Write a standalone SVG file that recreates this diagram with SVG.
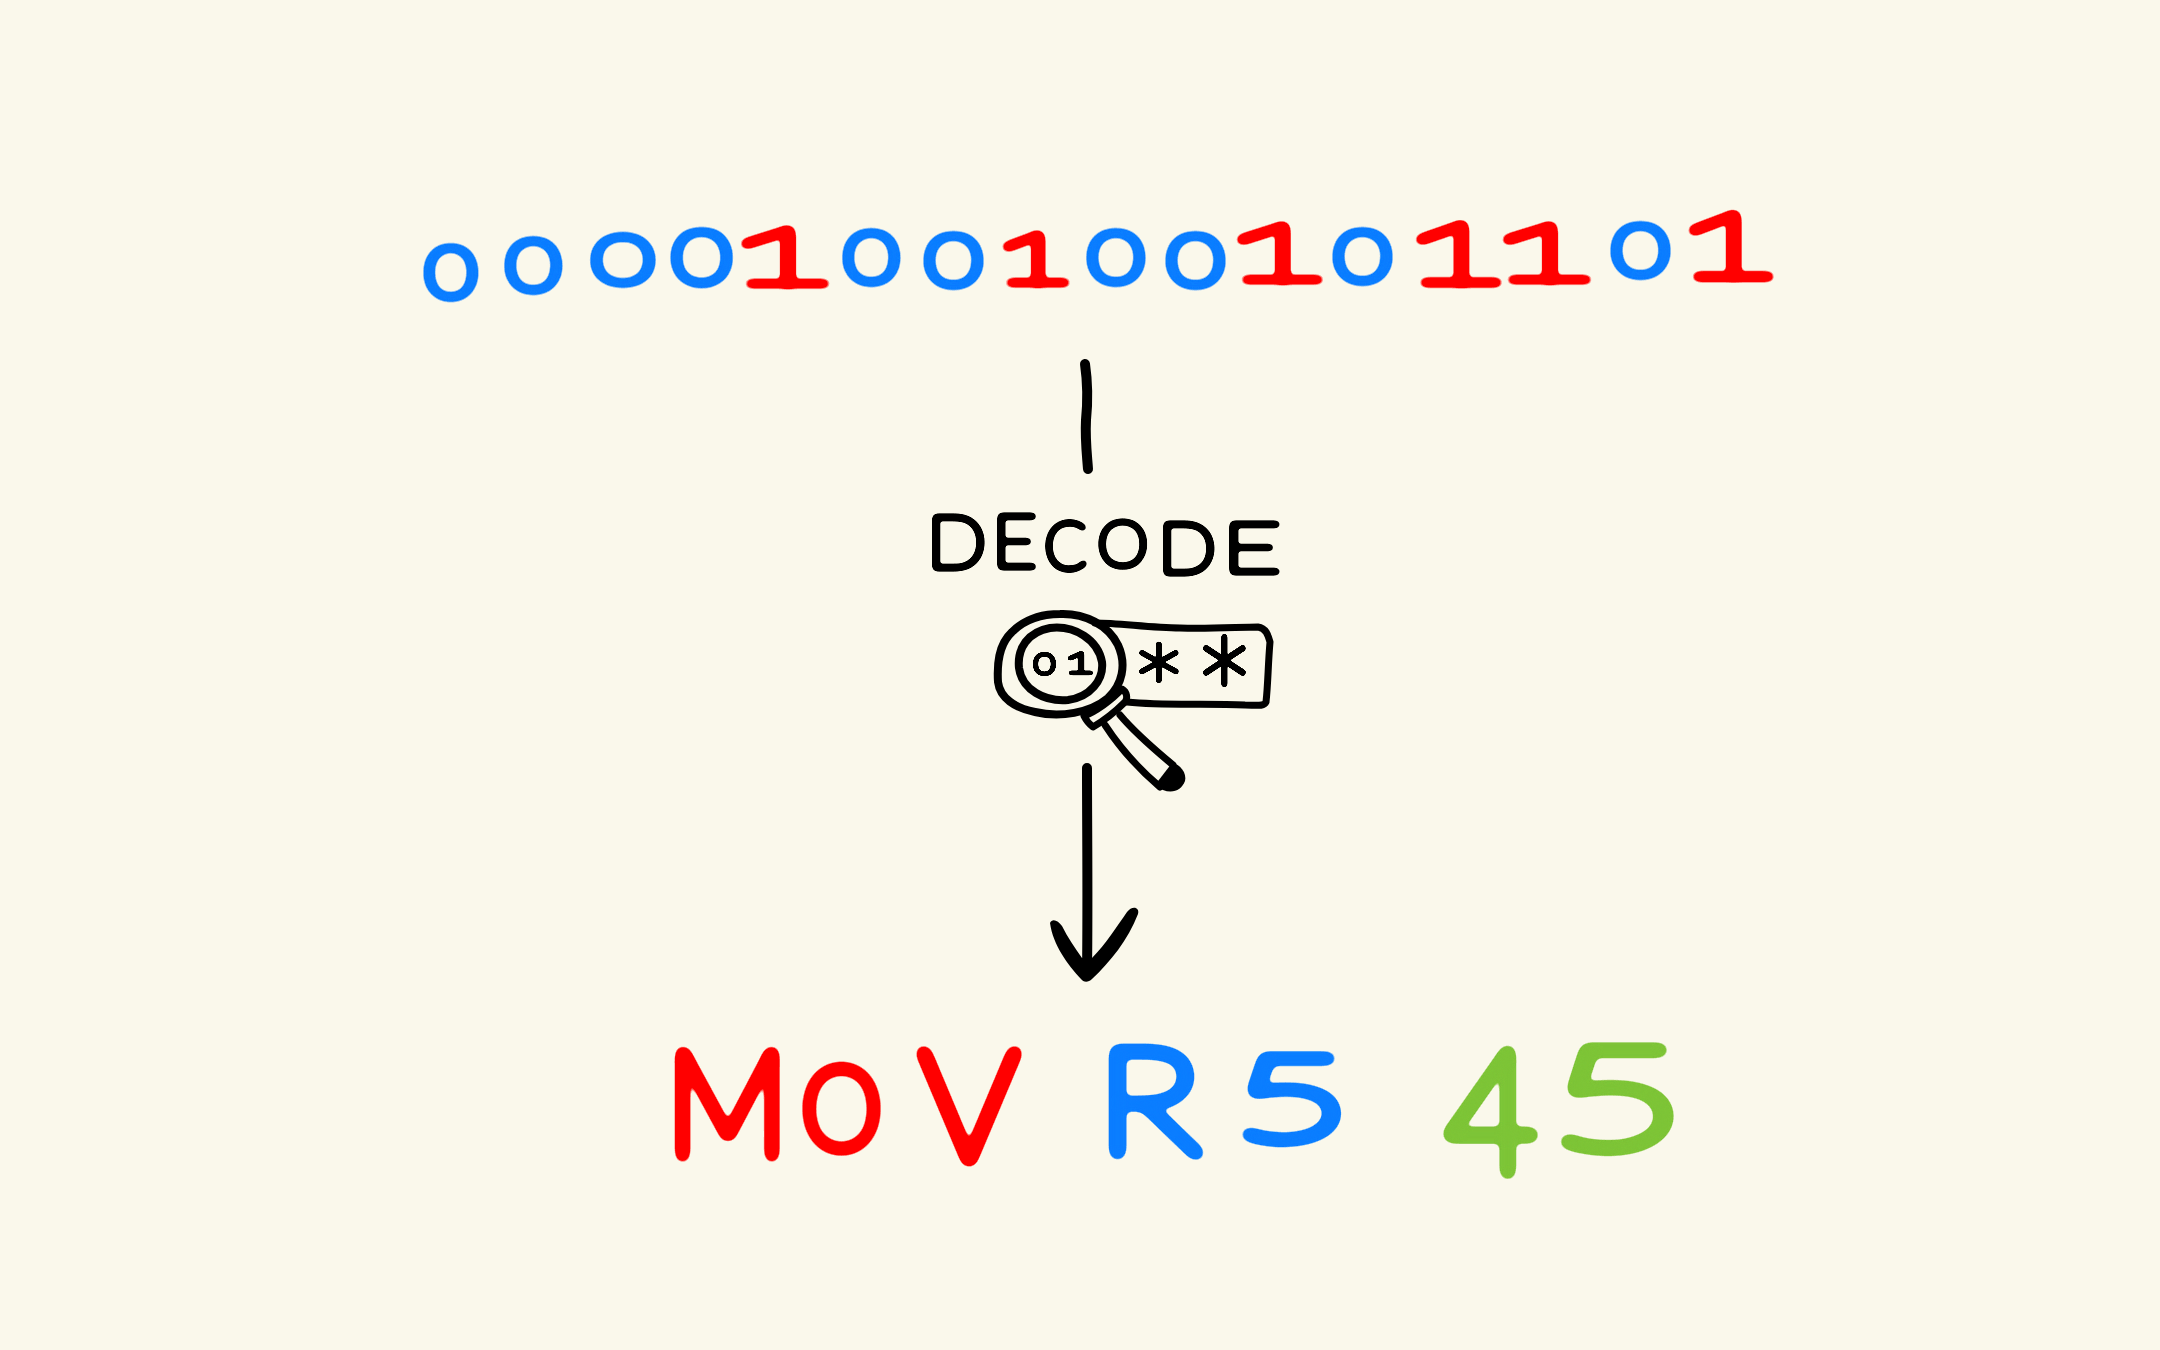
<svg xmlns="http://www.w3.org/2000/svg" width="2160" height="1350" viewBox="0 0 2160 1350">
<defs>
<filter id="fs" filterUnits="userSpaceOnUse" x="0" y="0" width="2160" height="1350" color-interpolation-filters="sRGB"><feGaussianBlur stdDeviation="1.3"/><feComponentTransfer><feFuncA type="linear" slope="20" intercept="-1.1"/></feComponentTransfer></filter>
<filter id="fd" filterUnits="userSpaceOnUse" x="0" y="0" width="2160" height="1350" color-interpolation-filters="sRGB"><feGaussianBlur stdDeviation="2"/><feComponentTransfer><feFuncA type="linear" slope="20" intercept="-1.3"/></feComponentTransfer></filter>
<filter id="fb" filterUnits="userSpaceOnUse" x="0" y="0" width="2160" height="1350" color-interpolation-filters="sRGB"><feGaussianBlur stdDeviation="3.5"/><feComponentTransfer><feFuncA type="linear" slope="20" intercept="-1.05"/></feComponentTransfer></filter>
<filter id="fi" filterUnits="userSpaceOnUse" x="0" y="0" width="2160" height="1350" color-interpolation-filters="sRGB"><feGaussianBlur stdDeviation="5"/><feComponentTransfer><feFuncA type="linear" slope="20" intercept="-1.8"/></feComponentTransfer></filter>
</defs>
<style>
text{font-family:Lato,"DejaVu Sans",sans-serif;font-weight:100;font-size:100px;stroke-linejoin:round}
.star{font-family:"DejaVu Sans",sans-serif;font-weight:200}
.blue{fill:#0a7dff;stroke:#0a7dff}
.red{fill:#f00;stroke:#f00}
.green{fill:#7dc436;stroke:#7dc436}
.ink{fill:#000;stroke:#000}
#bits text{stroke-width:1.5px}
#decode-label text{stroke-width:2px}
#instruction text{stroke-width:2.5px}
.tiny{stroke-width:5px}
.line{fill:none;stroke:#000;stroke-linecap:round;stroke-linejoin:round}
</style>
<rect width="2160" height="1350" fill="#faf8eb"/>
<g id="bits" filter="url(#fb)">
<text class="blue" transform="translate(424.8 297.3) scale(.9 .7)">0</text>
<text class="blue" transform="translate(505.6 290.3) scale(.96 .71)">0</text>
<text class="blue" transform="translate(591.1 283.3) scale(1.1 .66)">0</text>
<text class="blue" transform="translate(671.4 283.3) scale(1.04 .73)">0</text>
<text class="red" transform="translate(717.5 284) scale(2.22 .75)">1</text>
<text class="blue" transform="translate(843.6 282.3) scale(.96 .71)">0</text>
<text class="blue" transform="translate(924.5 285.3) scale(1 .7)">0</text>
<text class="red" transform="translate(985.3 283) scale(1.67 .68)">1</text>
<text class="blue" transform="translate(1087.6 282.3) scale(.98 .7)">0</text>
<text class="blue" transform="translate(1166.5 285.3) scale(1 .7)">0</text>
<text class="red" transform="translate(1214.2 280) scale(2.16 .76)">1</text>
<text class="blue" transform="translate(1333.5 281.3) scale(1 .7)">0</text>
<text class="red" transform="translate(1393.5 283) scale(2.14 .83)">1</text>
<text class="red" transform="translate(1479.5 280) scale(2.22 .76)">1</text>
<text class="blue" transform="translate(1611.5 275.3) scale(1 .71)">0</text>
<text class="red" transform="translate(1666.8 277) scale(2.11 .88)">1</text>
</g>
<g id="connectors">
<path class="line" stroke-width="10" d="M1085 364C1088 385 1088 400 1086 420C1085 440 1087 455 1088 469"/>
<path class="line" stroke-width="10" d="M1087 768C1087 830 1088 900 1087 972"/>
<path d="M1050 923C1052 918 1058 920 1062 926C1068 938 1075 948 1082 958L1092 958C1105 945 1118 925 1127 912C1132 905 1140 907 1138 914C1128 940 1110 962 1092 979C1088 983 1083 982 1081 979C1068 965 1053 945 1050 923Z" fill="#000"/>
</g>
<g id="decode-label" filter="url(#fd)">
<text class="ink" transform="translate(926.6 567.5) scale(.79 .72)">D</text>
<text class="ink" transform="translate(991.5 566.5) scale(.8 .72)">E</text>
<text class="ink" transform="translate(1044.3 568.9) scale(.63 .65)">C</text>
<text class="ink" transform="translate(1097.2 565.9) scale(.65 .61)">O</text>
<text class="ink" transform="translate(1157.8 572.5) scale(.77 .71)">D</text>
<text class="ink" transform="translate(1220.8 571.5) scale(1.07 .68)">E</text>
</g>
<g id="magnifier">
<path class="line" stroke-width="7" d="M1095 623C1120 623 1150 628 1180 628C1210 629 1240 627 1258 627C1266 628 1268 635 1270 642C1268 665 1268 685 1266 702C1264 707 1255 705 1245 705C1205 703 1165 706 1127 702"/>
<path class="line" stroke-width="8" d="M1060 614C1085 613 1108 625 1118 645C1127 665 1122 685 1108 698C1090 713 1060 718 1035 712C1015 708 1000 698 998 682C997 665 998 645 1012 632C1025 619 1042 614 1060 614Z"/>
<path class="line" stroke-width="8" d="M1050 628C1075 625 1098 640 1102 662C1104 680 1090 697 1068 700C1045 702 1022 690 1019 668C1017 648 1028 632 1050 628Z"/>
<path class="line" stroke-width="7" d="M1084 716C1095 712 1112 700 1122 689C1127 692 1128 698 1125 702C1115 712 1105 720 1093 727C1089 724 1086 720 1084 716Z"/>
<path class="line" stroke-width="7" d="M1105 725C1120 748 1140 770 1160 787M1120 715C1135 733 1155 750 1173 765"/>
<path d="M1155 785L1172 763C1180 764 1187 773 1185 781C1181 792 1168 796 1155 785Z" fill="#000"/>
<g filter="url(#fs)">
<text class="ink tiny" transform="translate(1033.7 673.7) scale(.37 .27)">0</text>
<text class="ink tiny" transform="translate(1063.3 673) scale(.56 .28)">1</text>
<text class="ink star" transform="translate(1137.5 704.8) scale(.86 .82)">*</text>
<text class="ink star" transform="translate(1201.3 716.4) scale(.93 1.07)">*</text>
</g>
</g>
<g id="instruction" filter="url(#fi)">
<text class="red" transform="translate(666.1 1156.5) scale(1.375 1.5)">M</text>
<text class="red" transform="translate(801.4 1149.4) scale(1.02 1.15)">O</text>
<text class="red" transform="translate(918.7 1160.5) scale(1.58 1.56)">V</text>
<text class="blue" transform="translate(1095.5 1153.5) scale(1.81 1.46)">R</text>
<text class="blue" transform="translate(1228.5 1139.5) scale(2.15 1.16)">5</text>
<text class="green" transform="translate(1444.7 1173.5) scale(1.61 1.74)">4</text>
<text class="green" transform="translate(1545.3 1147.5) scale(2.46 1.4)">5</text>
</g>
</svg>
